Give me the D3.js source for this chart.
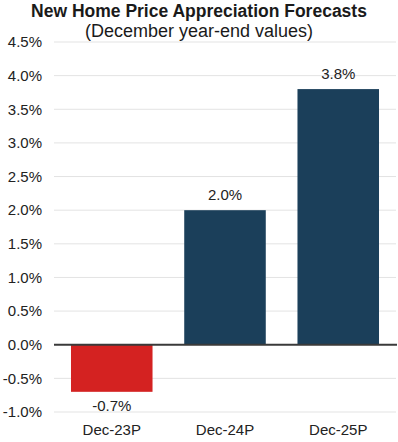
<!DOCTYPE html>
<html><head><meta charset="utf-8">
<script src="https://cdn.jsdelivr.net/npm/d3@7/dist/d3.min.js"></script>
<style>body{margin:0;background:#fff;}svg{display:block;font-family:"Liberation Sans",Arial,sans-serif;}</style>
</head><body>
<script>
const categories = ["Dec-23P", "Dec-24P", "Dec-25P"];
const values = [-0.7, 2.0, 3.8];
const barColors = ["#d42221", "#1b3f5a", "#1b3f5a"];
const yTicks = [-1.0, -0.5, 0.0, 0.5, 1.0, 1.5, 2.0, 2.5, 3.0, 3.5, 4.0, 4.5];
const title = "New Home Price Appreciation Forecasts";
const subtitle = "(December year-end values)";

const W = 398, H = 442;
const svg = d3.select("body").append("svg").attr("width", W).attr("height", H);
const x = d3.scaleBand().domain(categories).range([54, 396]).paddingInner(0.28).paddingOuter(0.15);
const y = d3.scaleLinear().domain([-1.0, 4.5]).range([412, 42]);

svg.append("text").attr("x", 199).attr("y", 17).attr("text-anchor", "middle")
  .attr("font-size", 17.5).attr("font-weight", "bold").attr("fill", "#1a1a1a").text(title);
svg.append("text").attr("x", 199).attr("y", 37).attr("text-anchor", "middle")
  .attr("font-size", 18).attr("fill", "#1a1a1a").text(subtitle);

// gridlines
svg.append("g").selectAll("line").data(yTicks.filter(d => d !== 0)).join("line")
  .attr("x1", 54).attr("x2", 396).attr("y1", d => y(d)).attr("y2", d => y(d))
  .attr("stroke", "#e3e3e3").attr("stroke-width", 1);

// y axis
const yAxis = d3.axisLeft(y).tickValues(yTicks).tickFormat(d => d.toFixed(1) + "%").tickSize(0).tickPadding(12);
const ga = svg.append("g").attr("transform", "translate(54,0)").call(yAxis);
ga.select(".domain").remove();
ga.selectAll("text").attr("font-size", 15).attr("fill", "#222").attr("font-family", "Liberation Sans, Arial, sans-serif");

// bars
svg.append("g").selectAll("rect").data(values).join("rect")
  .attr("x", (d, i) => x(categories[i])).attr("width", x.bandwidth())
  .attr("y", d => y(Math.max(0, d))).attr("height", d => Math.abs(y(d) - y(0)))
  .attr("fill", (d, i) => barColors[i]);

// zero line
svg.append("line").attr("x1", 54).attr("x2", 397).attr("y1", y(0)).attr("y2", y(0))
  .attr("stroke", "#3a3a3a").attr("stroke-width", 2);

// value labels
svg.append("g").selectAll("text").data(values).join("text")
  .attr("x", (d, i) => x(categories[i]) + x.bandwidth() / 2)
  .attr("y", d => d >= 0 ? y(d) - 10 : y(d) + 19)
  .attr("text-anchor", "middle").attr("font-size", 15).attr("fill", "#222")
  .text(d => d.toFixed(1) + "%");

// category labels
const xAxis = d3.axisBottom(x).tickSize(0).tickPadding(0);
const gx = svg.append("g").attr("transform", "translate(0,424)").call(xAxis);
gx.select(".domain").remove();
gx.selectAll("text").attr("font-size", 15).attr("fill", "#222").attr("font-family", "Liberation Sans, Arial, sans-serif").attr("dy", "0.71em");
</script>
</body></html>
